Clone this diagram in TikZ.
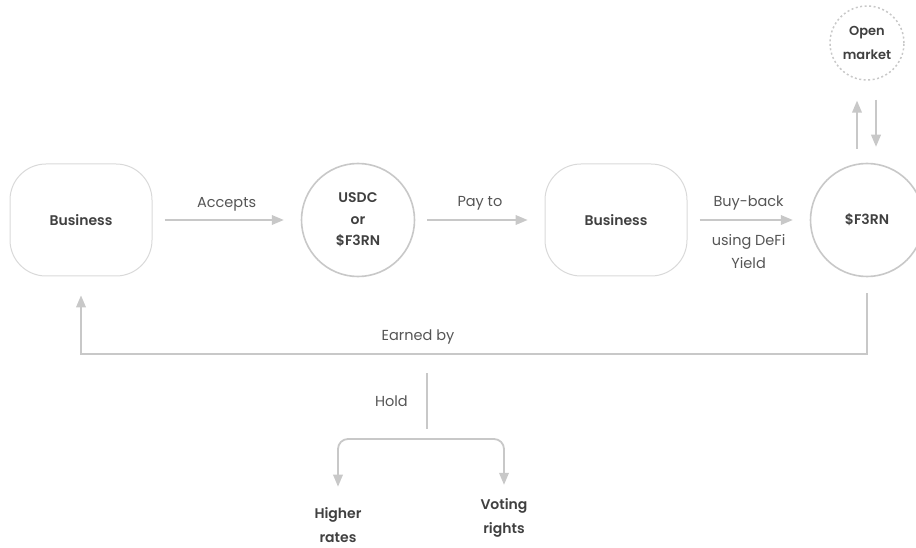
\documentclass[tikz,border=0pt]{standalone}
\usepackage{fontspec}
\setmainfont{Poppins}[BoldFont={Poppins SemiBold}]
\usetikzlibrary{shapes,arrows}
\usetikzlibrary{positioning}
\definecolor{linegray}{HTML}{C8C8C8}
\definecolor{boxgray}{HTML}{D9D9D9}
\definecolor{textgray}{HTML}{404040}
\definecolor{labelgray}{HTML}{555555}

\begin{document}
\begin{tikzpicture}[x=1pt,y=-1pt,->,>=triangle 45,node distance=254pt,line width=1.8pt,draw=linegray,
	box node/.style={rectangle,rounded corners=36pt,draw=boxgray,line width=1pt,minimum width=142pt,minimum height=112pt,text=textgray,font=\fontsize{14}{16}\selectfont\bfseries},
	coin node/.style={circle,draw=linegray,line width=1.6pt,minimum size=113pt,align=center,text=textgray,font=\fontsize{14}{21.5}\selectfont\bfseries},
	market node/.style={circle,draw=linegray,line width=1.5pt,dash pattern=on 2pt off 2.5pt,minimum size=74pt,align=center,text=textgray,font=\fontsize{13}{24}\selectfont\bfseries},
	end node/.style={align=center,inner sep=1pt,text=textgray,font=\fontsize{14}{24}\selectfont\bfseries},
	flow/.style={draw=linegray,line width=1.8pt},
	label text/.style={text=labelgray,font=\fontsize{14.5}{23}\selectfont}]
	\useasboundingbox (0,0) rectangle (916,548);

	\node[box node] (biz1) at (81,220) {Business};
	\node[coin node] (usdc) [right of=biz1, xshift=23pt] {USDC\\or\\\$F3RN};
	\node[box node] (biz2) [right of=usdc, xshift=4pt] {Business};
	\node[coin node] (f3rn) [right of=biz2, xshift=-3pt] {\$F3RN};
	\node[market node] (market) [above of=f3rn, node distance=177pt] {Open\\market};

	\node[end node] (higher) at (338,525) {Higher\\rates};
	\node[end node] (voting) at (504,518) {Voting\\rights};
	\coordinate (hold) at (427,373);
	\coordinate (fork) at (427,439);

	\path[flow, shorten <=12pt, shorten >=17pt, every node/.style={label text}]
		(biz1) edge node [above=4pt] {Accepts} (usdc)
		(usdc) edge node [above=6pt] {Pay to} (biz2)
		(biz2) edge node [above=6pt] {Buy-back}
			node [below=10pt, align=center] {using DeFi\\Yield} (f3rn);

	\draw[flow, shorten <=14pt, shorten >=20pt] ([xshift=-10pt]f3rn.north) -- ([xshift=-10pt]market.south);
	\draw[flow, shorten <=19pt, shorten >=16pt] ([xshift=9pt]market.south) -- ([xshift=9pt]f3rn.north);

	\draw[flow, shorten <=16pt, shorten >=19pt] (f3rn.south) -- ++(0,77) -| (biz1.south);
	\node[label text] (earned) at (418,337) {Earned by};

	\draw[flow, -] (hold) -- node[label text, left=15pt] {Hold} ([yshift=10pt]fork);
	\draw[flow, rounded corners=10pt, shorten >=19pt] (fork) -| (higher.north);
	\draw[flow, rounded corners=10pt, shorten >=12pt] (fork) -| (voting.north);
\end{tikzpicture}
\end{document}
